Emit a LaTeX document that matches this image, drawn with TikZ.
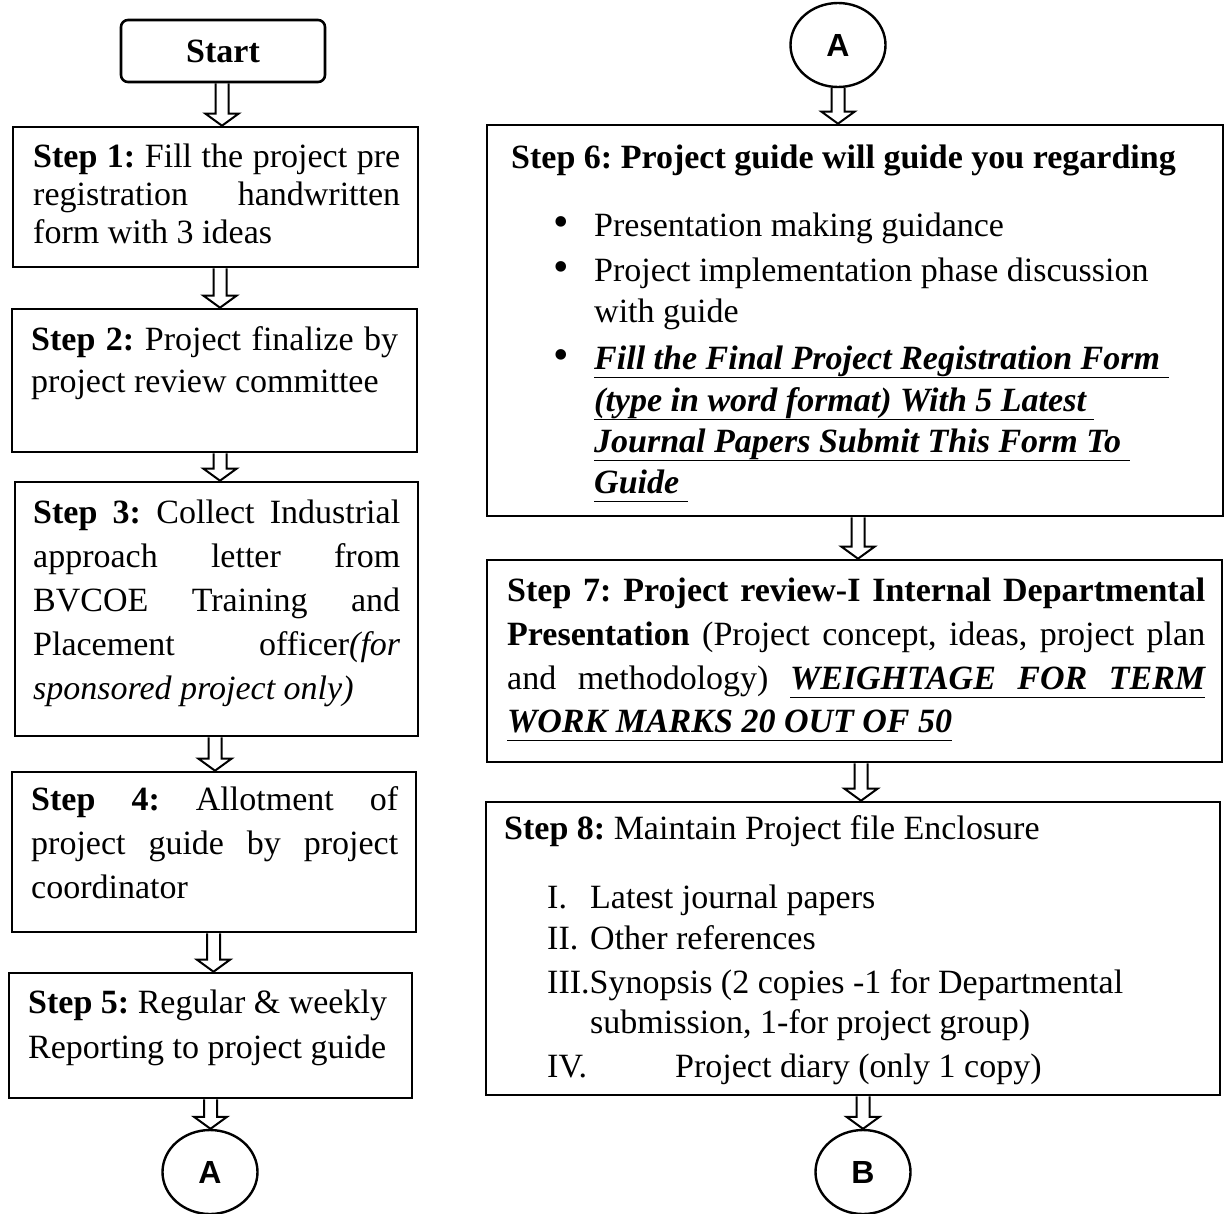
\documentclass[tikz,border=0pt]{standalone}
\usepackage{fontspec}
\setmainfont{Liberation Serif}
\newfontfamily\circfont{Liberation Sans}
\usetikzlibrary{calc,shapes.geometric}
\frenchspacing
\hyphenpenalty=10000 \exhyphenpenalty=10000 \tolerance=10000 \hbadness=10000
\newcommand\ulw[1]{\setbox0\hbox{#1}\rlap{\vrule width\wd0 height -7.6pt depth 9.2pt}\box0}
\newcommand\ulsp{\leaders\vrule height -7.6pt depth 9.2pt\hskip\fontdimen2\font plus\fontdimen3\font minus\fontdimen4\font}
\newcommand\bigbul{\scalebox{1.3}{\textbullet}}
\begin{document}
\begin{tikzpicture}[x=1pt,y=-1pt,
  box/.style={draw, line width=2.6pt, inner sep=0pt, rectangle},
  circ/.style={draw, line width=2.4pt, ellipse, inner sep=0pt, minimum width=95pt, minimum height=84pt},
  ctext/.style={font=\fontsize{32}{32}\circfont\bfseries},
  para/.style={anchor=base west, inner sep=0pt, text width=#1, align=justify},
  lne/.style={anchor=base west, inner sep=0pt},
  blk/.style={line width=2pt, to path={let \p1=(\tikztostart),\p2=(\tikztotarget) in
     (\x1-6.5pt,\y1) -- (\x1-6.5pt,\y2+12pt) -- (\x1-16.5pt,\y2+12pt) -- (\x1,\y2)
     -- (\x1+16.5pt,\y2+12pt) -- (\x1+6.5pt,\y2+12pt) -- (\x1+6.5pt,\y1)}}
]
\useasboundingbox (0,0) rectangle (1225,1213);

% ---------- left column ----------
\node[box, rounded corners=7pt, minimum width=204pt, minimum height=62pt,
      font=\bfseries\fontsize{34}{34}\selectfont] (start) at (223,51) {Start};
\node[box, minimum width=405pt, minimum height=140pt] (s1) at (215.5,197) {};
\node[box, minimum width=405pt, minimum height=143pt] (s2) at (214.5,380.5) {};
\node[box, minimum width=403pt, minimum height=254pt] (s3) at (216.5,609) {};
\node[box, minimum width=404pt, minimum height=160pt] (s4) at (214,852) {};
\node[box, minimum width=403pt, minimum height=125pt] (s5) at (210.5,1035.5) {};
\node[circ, ctext] (A1) at (210,1172) {A};

\node[para=367pt, font=\fontsize{34}{38}\selectfont] (t1) at (33,167)
 {\textbf{Step 1:} Fill the project pre\linebreak registration handwritten\linebreak form with 3 ideas};
\node[para=367pt, font=\fontsize{34}{42.5}\selectfont] (t2) at (31,350)
 {\textbf{Step 2:} Project finalize by\linebreak project review committee};
\node[para=367pt, font=\fontsize{34}{44}\selectfont] (t3) at (33,523)
 {\textbf{Step 3:} Collect Industrial\linebreak approach letter from\linebreak BVCOE Training and\linebreak Placement officer\textit{(for\linebreak sponsored project only)}};
\node[para=367pt, font=\fontsize{34}{44}\selectfont] (t4) at (31,810)
 {\textbf{Step 4:} Allotment of\linebreak project guide by project\linebreak coordinator};
\node[lne, font=\fontsize{34}{45}\selectfont] (t5) at (28,1013) {\textbf{Step 5:} Regular \& weekly};
\node[lne, font=\fontsize{34}{45}\selectfont] (t5b) at (28,1058) {Reporting to project guide};

\draw[blk] ([xshift=-1pt]start.south) to (s1.north);
\draw[blk] ([xshift=4.5pt]s1.south) to (s2.north);
\draw[blk] ([xshift=5.5pt]s2.south) to (s3.north);
\draw[blk] ([xshift=-1.5pt]s3.south) to (s4.north);
\draw[blk] ([xshift=-0.5pt]s4.south) to (s5.north);
\draw[blk] (s5.south) to (A1.north);

% ---------- right column ----------
\node[circ, ctext] (A2) at (838,45) {A};
\node[box, minimum width=736pt, minimum height=391pt] (s6) at (855,320.5) {};
\node[box, minimum width=735pt, minimum height=202pt] (s7) at (854.5,661) {};
\node[box, minimum width=734pt, minimum height=293pt] (s8) at (853,948.5) {};
\node[circ, ctext] (B) at (863,1172) {B};

\begin{scope}[every node/.append style={font=\fontsize{34}{41}\selectfont}]
\node[lne] (h6) at (511,168) {\textbf{Step 6: Project guide will guide you regarding}};
\node[lne] (b61) at (553,236) {\bigbul};
\node[lne] (l61) at (594,236) {Presentation making guidance};
\node[lne] (b62) at (553,281) {\bigbul};
\node[lne] (l62) at (594,281) {Project implementation phase discussion};
\node[lne] (l62b) at (594,322) {with guide};
\node[lne] (b63) at (553,369) {\bigbul};
\node[lne, font=\bfseries\itshape\fontsize{34}{41}\selectfont] (l63a) at (594,369) {\ulw{Fill the Final Project Registration Form }};
\node[lne, font=\bfseries\itshape\fontsize{34}{41}\selectfont] (l63b) at (594,411) {\ulw{(type in word format) With 5 Latest }};
\node[lne, font=\bfseries\itshape\fontsize{34}{41}\selectfont] (l63c) at (594,452) {\ulw{Journal Papers Submit This Form To }};
\node[lne, font=\bfseries\itshape\fontsize{34}{41}\selectfont] (l63d) at (594,493) {\ulw{Guide }};

\node[lne] (l71) at (507,601) {\hbox to 698pt{\bfseries Step 7: Project review-I Internal Departmental}};
\node[lne] (l72) at (507,645) {\hbox to 698pt{\textbf{Presentation} (Project concept, ideas, project plan}};
\node[lne] (l73) at (507,689) {\hbox to 698pt{and methodology) {\bfseries\itshape\ulw{WEIGHTAGE}\ulsp\ulw{FOR}\ulsp\ulw{TERM}}}};
\node[lne, font=\bfseries\itshape\fontsize{34}{41}\selectfont] (l74) at (507,732) {\ulw{WORK MARKS 20 OUT OF 50}};

\node[lne] (h8) at (504,839) {\textbf{Step 8:} Maintain Project file Enclosure};
\node[lne] (r1) at (547,908) {I.};
\node[lne] (i1) at (590,908) {Latest journal papers};
\node[lne] (r2) at (547,949) {II.};
\node[lne] (i2) at (590,949) {Other references};
\node[lne] (i3) at (547,993) {III.Synopsis (2 copies -1 for Departmental};
\node[lne] (i3b) at (590,1033) {submission, 1-for project group)};
\node[lne] (r4) at (547,1077) {IV.};
\node[lne] (i4) at (675,1077) {Project diary (only 1 copy)};
\end{scope}

\draw[blk] (A2.south) to (s6.north);
\draw[blk] ([xshift=3pt]s6.south) to (s7.north);
\draw[blk] ([xshift=6.5pt]s7.south) to (s8.north);
\draw[blk] ([xshift=10pt]s8.south) to (B.north);
\end{tikzpicture}
\end{document}
